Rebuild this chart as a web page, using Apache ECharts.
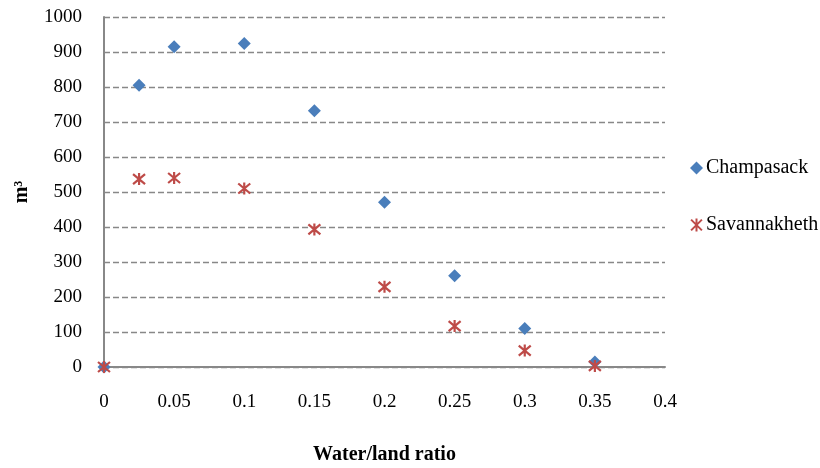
<!DOCTYPE html>
<html>
<head>
<meta charset="utf-8">
<script src="https://cdn.jsdelivr.net/npm/echarts@6/dist/echarts.min.js"></script>
<style>
  html, body { margin: 0; padding: 0; background: #fff; }
  #chart { width: 820px; height: 468px; }
</style>
</head>
<body>
<div id="chart"></div>
<script>
// Water/land ratio sampled on the x axis
const ratios = [0, 0.025, 0.05, 0.1, 0.15, 0.2, 0.25, 0.3, 0.35];
// Volume (m³) for each province
const champasack = [0, 805, 915, 924, 732, 471, 261, 110, 14];
const savannakheth = [0, 537, 540, 510, 393, 229, 117, 47, 3];

const seriesNames = ['Champasack', 'Savannakheth'];
const xTitle = 'Water/land ratio';
const yTitle = 'm³';

const FONT = '"Liberation Serif", "DejaVu Serif", serif';
const starPath = 'path://M0 0L10 10M10 0L0 10M5 -1L5 11';

const toPairs = (vals) => ratios.map((x, i) => [x, vals[i]]);

const chart = echarts.init(document.getElementById('chart'), null, { renderer: 'canvas' });
chart.setOption({
  animation: false,
  textStyle: { fontFamily: FONT, color: '#000' },
  grid: { left: 104, right: 155, top: 17, height: 350, containLabel: false, outerBoundsMode: 'none' },
  legend: {
    orient: 'vertical',
    left: 685,
    top: 153,
    itemGap: 37,
    itemWidth: 13,
    itemHeight: 13,
    textStyle: { fontFamily: FONT, fontSize: 20, color: '#000', padding: [0, 0, 0, -2] },
    data: seriesNames
  },
  xAxis: {
    type: 'value',
    min: 0, max: 0.4, interval: 0.05,
    name: xTitle,
    nameLocation: 'middle',
    nameGap: 78,
    nameTextStyle: { fontFamily: FONT, fontSize: 20, fontWeight: 'bold', color: '#000' },
    axisLine: { show: true, lineStyle: { color: '#888', width: 2 } },
    axisTick: { show: false },
    splitLine: { show: false },
    axisLabel: { fontFamily: FONT, fontSize: 19, color: '#000', margin: 26,
      formatter: (v) => String(+v.toFixed(2)) }
  },
  yAxis: {
    type: 'value',
    min: 0, max: 1000, interval: 100,
    name: yTitle,
    nameLocation: 'middle',
    nameGap: 72,
    nameRotate: 90,
    nameTextStyle: { fontFamily: FONT, fontSize: 20, fontWeight: 'bold', color: '#000' },
    axisLine: { show: true, lineStyle: { color: '#888', width: 2 } },
    axisTick: { show: false },
    splitLine: { show: true, lineStyle: { color: '#888', type: [6, 3], width: 1.3 } },
    axisLabel: { fontFamily: FONT, fontSize: 19, color: '#000', margin: 22,
      formatter: (v) => String(v) }
  },
  series: [
    {
      name: seriesNames[0],
      type: 'scatter',
      symbol: 'diamond',
      symbolSize: [13, 13],
      itemStyle: { color: '#4a7ebb', opacity: 1 },
      data: toPairs(champasack),
      z: 2
    },
    {
      name: seriesNames[1],
      type: 'scatter',
      symbol: starPath,
      symbolSize: 12,
      itemStyle: { color: 'rgba(0,0,0,0)', borderColor: '#be4b48', borderWidth: 2.2, opacity: 1 },
      data: toPairs(savannakheth),
      z: 3
    }
  ]
});
</script>
</body>
</html>
